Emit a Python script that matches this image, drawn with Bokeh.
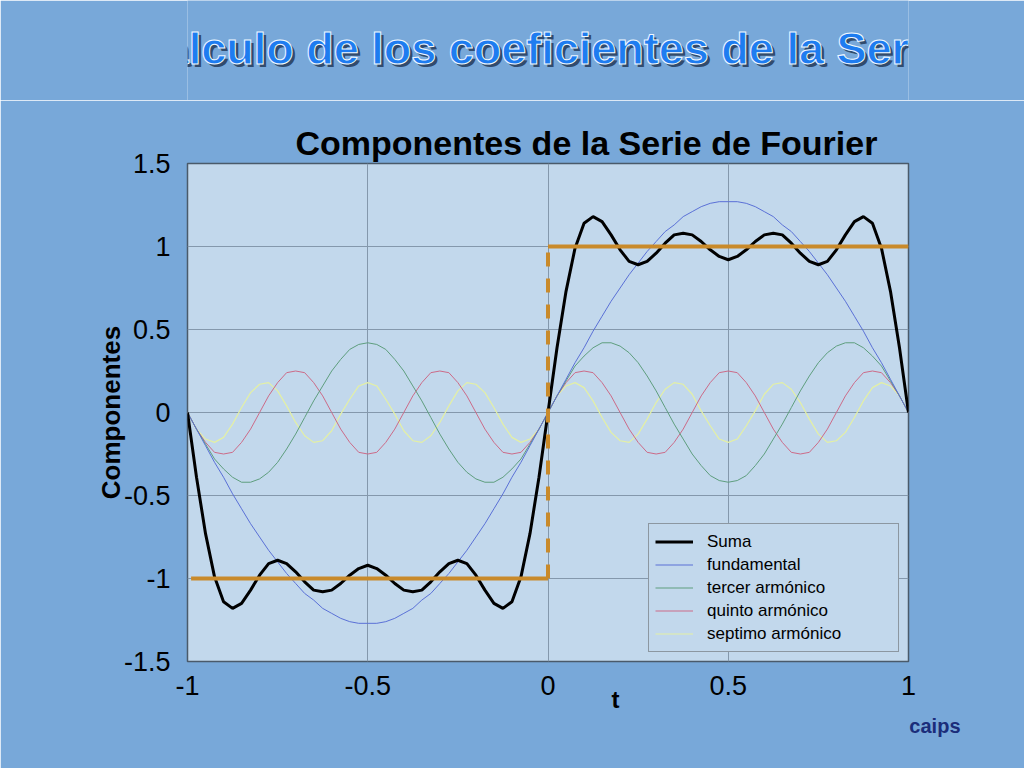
from bokeh.plotting import figure
from bokeh.models import (Range1d, FixedTicker, Legend, LegendItem, Title, Label)
from bokeh.layouts import column
from bokeh.embed import file_html
from bokeh.resources import INLINE

# ---------------- data ----------------
t_values = [round(-1 + 0.025 * i, 3) for i in range(81)]

suma = [0, -0.39, -0.73, -0.99, -1.14, -1.18, -1.15, -1.07, -0.98, -0.91,
        -0.89, -0.91, -0.96, -1.02, -1.07, -1.08, -1.07, -1.03, -0.98, -0.94,
        -0.92, -0.94, -0.98, -1.03, -1.07, -1.08, -1.07, -1.02, -0.96, -0.91,
        -0.89, -0.91, -0.98, -1.07, -1.15, -1.18, -1.14, -0.99, -0.73, -0.39,
        0, 0.39, 0.73, 0.99, 1.14, 1.18, 1.15, 1.07, 0.98, 0.91,
        0.89, 0.91, 0.96, 1.02, 1.07, 1.08, 1.07, 1.03, 0.98, 0.94,
        0.92, 0.94, 0.98, 1.03, 1.07, 1.08, 1.07, 1.02, 0.96, 0.91,
        0.89, 0.91, 0.98, 1.07, 1.15, 1.18, 1.14, 0.99, 0.73, 0.39, 0]

fundamental = [0, -0.10, -0.20, -0.30, -0.39, -0.49, -0.58, -0.67, -0.75, -0.83,
               -0.90, -0.97, -1.03, -1.09, -1.13, -1.18, -1.21, -1.24, -1.26, -1.27,
               -1.27, -1.27, -1.26, -1.24, -1.21, -1.18, -1.13, -1.09, -1.03, -0.97,
               -0.90, -0.83, -0.75, -0.67, -0.58, -0.49, -0.39, -0.30, -0.20, -0.10,
               0, 0.10, 0.20, 0.30, 0.39, 0.49, 0.58, 0.67, 0.75, 0.83,
               0.90, 0.97, 1.03, 1.09, 1.13, 1.18, 1.21, 1.24, 1.26, 1.27,
               1.27, 1.27, 1.26, 1.24, 1.21, 1.18, 1.13, 1.09, 1.03, 0.97,
               0.90, 0.83, 0.75, 0.67, 0.58, 0.49, 0.39, 0.30, 0.20, 0.10, 0]

tercer = [0, -0.10, -0.19, -0.28, -0.34, -0.39, -0.42, -0.42, -0.40, -0.36,
          -0.30, -0.22, -0.13, -0.03, 0.07, 0.16, 0.25, 0.32, 0.38, 0.41,
          0.42, 0.41, 0.38, 0.32, 0.25, 0.16, 0.07, -0.03, -0.13, -0.22,
          -0.30, -0.36, -0.40, -0.42, -0.42, -0.39, -0.34, -0.28, -0.19, -0.10,
          0, 0.10, 0.19, 0.28, 0.34, 0.39, 0.42, 0.42, 0.40, 0.36,
          0.30, 0.22, 0.13, 0.03, -0.07, -0.16, -0.25, -0.32, -0.38, -0.41,
          -0.42, -0.41, -0.38, -0.32, -0.25, -0.16, -0.07, 0.03, 0.13, 0.22,
          0.30, 0.36, 0.40, 0.42, 0.42, 0.39, 0.34, 0.28, 0.19, 0.10, 0]

quinto = [0, -0.10, -0.18, -0.24, -0.25, -0.24, -0.18, -0.10, 0, 0.10,
          0.18, 0.24, 0.25, 0.24, 0.18, 0.10, 0, -0.10, -0.18, -0.24,
          -0.25, -0.24, -0.18, -0.10, 0, 0.10, 0.18, 0.24, 0.25, 0.24,
          0.18, 0.10, 0, -0.10, -0.18, -0.24, -0.25, -0.24, -0.18, -0.10,
          0, 0.10, 0.18, 0.24, 0.25, 0.24, 0.18, 0.10, 0, -0.10,
          -0.18, -0.24, -0.25, -0.24, -0.18, -0.10, 0, 0.10, 0.18, 0.24,
          0.25, 0.24, 0.18, 0.10, 0, -0.10, -0.18, -0.24, -0.25, -0.24,
          -0.18, -0.10, 0, 0.10, 0.18, 0.24, 0.25, 0.24, 0.18, 0.10, 0]

septimo = [0, -0.10, -0.16, -0.18, -0.15, -0.07, 0.03, 0.12, 0.17, 0.18,
           0.13, 0.04, -0.06, -0.14, -0.18, -0.17, -0.11, -0.01, 0.08, 0.16,
           0.18, 0.16, 0.08, -0.01, -0.11, -0.17, -0.18, -0.14, -0.06, 0.04,
           0.13, 0.18, 0.17, 0.12, 0.03, -0.07, -0.15, -0.18, -0.16, -0.10,
           0, 0.10, 0.16, 0.18, 0.15, 0.07, -0.03, -0.12, -0.17, -0.18,
           -0.13, -0.04, 0.06, 0.14, 0.18, 0.17, 0.11, 0.01, -0.08, -0.16,
           -0.18, -0.16, -0.08, 0.01, 0.11, 0.17, 0.18, 0.14, 0.06, -0.04,
           -0.13, -0.18, -0.17, -0.12, -0.03, 0.07, 0.15, 0.18, 0.16, 0.10, 0]

square_low_t = [-0.99, 0.0]
square_low_y = [-1.0, -1.0]
square_high_t = [0.0, 1.0]
square_high_y = [1.0, 1.0]
square_jump_t = [0.0, 0.0]
square_jump_y = [-1.0, 1.0]

x_ticks = [-1, -0.5, 0, 0.5, 1]
x_tick_labels = ["-1", "-0.5", "0", "0.5", "1"]
y_ticks = [-1.5, -1, -0.5, 0, 0.5, 1, 1.5]
y_tick_labels = ["-1.5", "-1", "-0.5", "0", "0.5", "1", "1.5"]

legend_labels = ["Suma", "fundamental", "tercer armónico", "quinto armónico", "septimo armónico"]

main_title = "Cálculo de los coeficientes de la Serie"
chart_title = "Componentes de la Serie de Fourier"
x_label = "t"
y_label = "Componentes"
logo_text = "caips"

# ---------------- styling ----------------
BG = "#78a8d9"
PLOT_BG = "#c2d8ec"
GRID = "#8498ac"
FONT = "Liberation Sans"
C_FUND = "#5a70d6"
C_TER = "#5e9e7e"
C_QUI = "#cc6b88"
C_SEP = "#e4f0a4"
C_SQ = "#c98a2a"

TOP_H = 100

# ---------------- banner with the slide title ----------------
top = figure(width=1024, height=TOP_H,
             x_range=Range1d(0, 1024), y_range=Range1d(0, TOP_H),
             x_axis_type=None, y_axis_type=None,
             min_border=0, min_border_left=0, min_border_right=0,
             min_border_top=0, min_border_bottom=0,
             output_backend="svg", toolbar_location=None,
             background_fill_color=BG, border_fill_color=BG)
top.outline_line_color = None
top.grid.visible = False

top.add_layout(Label(x=499, y=TOP_H - 48, text=main_title, text_font=FONT,
                     text_font_size="45px", text_font_style="bold",
                     text_color="#1a2c48", text_alpha=0.75,
                     text_align="center", text_baseline="middle",
                     x_offset=3, y_offset=-3))
top.add_layout(Label(x=499, y=TOP_H - 48, text=main_title, text_font=FONT,
                     text_font_size="45px", text_font_style="bold",
                     text_color="#1e7cf0", text_outline_color="#f0f8ff",
                     text_align="center", text_baseline="middle"))

# ---------------- main chart ----------------
p = figure(frame_width=721, frame_height=498,
           x_range=Range1d(-1, 1), y_range=Range1d(-1.5, 1.5),
           output_backend="svg", toolbar_location=None,
           min_border_left=187, min_border_right=116,
           min_border_top=163 - TOP_H, min_border_bottom=107,
           background_fill_color=PLOT_BG, border_fill_color=BG)

p.outline_line_color = "#4a5a6a"
p.outline_line_width = 1.5

ctitle = Title(text=chart_title, align="left", offset=108, standoff=4,
               text_font=FONT, text_font_size="34px", text_font_style="bold",
               text_color="#000000")
p.add_layout(ctitle, "above")

p.xaxis.ticker = FixedTicker(ticks=x_ticks)
p.yaxis.ticker = FixedTicker(ticks=y_ticks)
p.xaxis.major_label_overrides = dict(zip(x_ticks, x_tick_labels))
p.yaxis.major_label_overrides = dict(zip(y_ticks, y_tick_labels))
for ax in (p.xaxis[0], p.yaxis[0]):
    ax.axis_line_color = None
    ax.major_tick_line_color = None
    ax.minor_tick_line_color = None
    ax.major_tick_out = 0
    ax.major_tick_in = 0
    ax.minor_tick_out = 0
    ax.minor_tick_in = 0
    ax.major_label_text_font = FONT
    ax.major_label_text_font_size = "27px"
    ax.major_label_text_color = "#000000"
p.xaxis.major_label_standoff = 14
p.yaxis.major_label_standoff = 17

p.yaxis.axis_label = y_label
p.yaxis.axis_label_text_font = FONT
p.yaxis.axis_label_text_font_size = "26px"
p.yaxis.axis_label_text_font_style = "bold"
p.yaxis.axis_label_text_color = "#000000"
p.yaxis.axis_label_standoff = -5

t_title = Title(text=x_label, align="left", offset=424, standoff=-30,
                text_font=FONT, text_font_size="24px", text_font_style="bold",
                text_color="#000000")
p.add_layout(t_title, "below")

logo = Title(text=logo_text, align="right", offset=-52, standoff=30,
             text_font=FONT, text_font_size="20px", text_font_style="bold",
             text_color="#1b2d7a")
p.add_layout(logo, "below")

p.xgrid.ticker = FixedTicker(ticks=x_ticks)
p.ygrid.ticker = FixedTicker(ticks=y_ticks)
p.grid.grid_line_color = GRID
p.grid.grid_line_width = 1

r_sep = p.line(t_values, septimo, line_color=C_SEP, line_width=1.2)
r_qui = p.line(t_values, quinto, line_color=C_QUI, line_width=1)
r_ter = p.line(t_values, tercer, line_color=C_TER, line_width=1)
r_fund = p.line(t_values, fundamental, line_color=C_FUND, line_width=1)
r_suma = p.line(t_values, suma, line_color="#000000", line_width=3)

p.line(square_low_t, square_low_y, line_color=C_SQ, line_width=4)
p.line(square_high_t, square_high_y, line_color=C_SQ, line_width=4)
p.line(square_jump_t, square_jump_y, line_color=C_SQ, line_width=4, line_dash="14 12")

legend = Legend(items=[
    LegendItem(label=legend_labels[0], renderers=[r_suma]),
    LegendItem(label=legend_labels[1], renderers=[r_fund]),
    LegendItem(label=legend_labels[2], renderers=[r_ter]),
    LegendItem(label=legend_labels[3], renderers=[r_qui]),
    LegendItem(label=legend_labels[4], renderers=[r_sep]),
], location=(461, 9))
legend.margin = 0
legend.padding = 6
legend.spacing = 0
legend.glyph_width = 38
legend.glyph_height = 23
legend.label_height = 23
legend.label_width = 185
legend.label_standoff = 14
legend.label_text_font = FONT
legend.label_text_font_size = "17px"
legend.label_text_color = "#000000"
legend.border_line_color = "#555555"
legend.border_line_width = 1.5
legend.background_fill_color = PLOT_BG
legend.background_fill_alpha = 1
p.add_layout(legend)

page = column(top, p, spacing=0)
open("out.html", "w").write(file_html(page, INLINE))
